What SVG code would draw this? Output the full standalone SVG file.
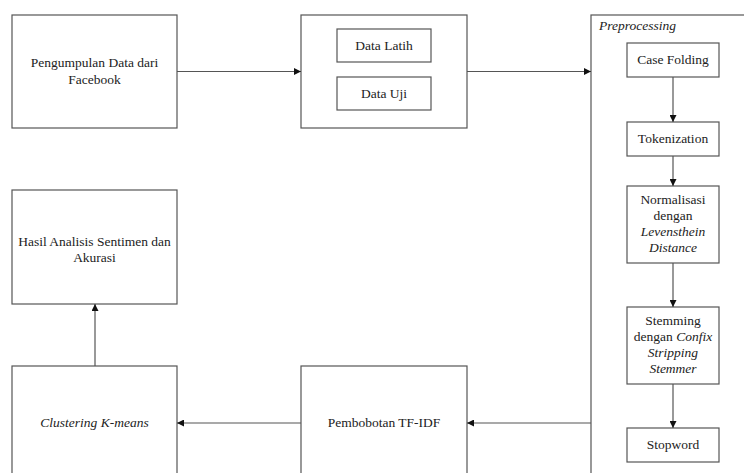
<svg xmlns="http://www.w3.org/2000/svg" width="744" height="473" viewBox="0 0 744 473">
<style>
.b{fill:#fff;stroke:#555;stroke-width:1.2}
.lbl{font-family:'Liberation Serif',serif;font-size:13.5px;fill:#222;text-anchor:middle}
.it{font-style:italic}
.c{fill:none;stroke:#555;stroke-width:1.2}
</style>
<defs>
<marker id="a" viewBox="0 0 10 10" refX="10" refY="5" markerWidth="7" markerHeight="7" markerUnits="userSpaceOnUse" orient="auto">
<path d="M0,0 L10,5 L0,10 z" fill="#111"/>
</marker>
</defs>
<rect width="744" height="473" fill="#fff"/>
<g id="n-pengumpulan">
<rect class="b" x="12" y="15" width="165" height="113"/>
<text class="lbl" font-family="Liberation Serif" x="94.5" y="67">Pengumpulan Data dari</text>
<text class="lbl" font-family="Liberation Serif" x="94.5" y="84">Facebook</text>
</g>
<g id="n-data">
<rect class="b" x="301" y="15" width="166" height="113"/>
<g id="n-latih">
<rect class="b" x="337" y="29" width="94" height="33"/>
<text class="lbl" font-family="Liberation Serif" x="384" y="50">Data Latih</text>
</g>
<g id="n-uji">
<rect class="b" x="337" y="77" width="94" height="33"/>
<text class="lbl" font-family="Liberation Serif" x="384" y="98">Data Uji</text>
</g>
</g>
<g id="n-preprocessing">
<rect class="b" x="591" y="15" width="170" height="470"/>
<text class="lbl it" font-family="Liberation Serif" style="text-anchor:start" x="599" y="30">Preprocessing</text>
</g>
<g id="n-casefolding">
<rect class="b" x="627" y="43" width="92" height="34"/>
<text class="lbl" font-family="Liberation Serif" x="673" y="64">Case Folding</text>
</g>
<g id="n-tokenization">
<rect class="b" x="627" y="122" width="92" height="34"/>
<text class="lbl" font-family="Liberation Serif" x="673" y="143">Tokenization</text>
</g>
<g id="n-normalisasi">
<rect class="b" x="627" y="186" width="92" height="77"/>
<text class="lbl" font-family="Liberation Serif" x="673" y="204">Normalisasi</text>
<text class="lbl" font-family="Liberation Serif" x="673" y="220">dengan</text>
<text class="lbl it" font-family="Liberation Serif" x="673" y="236">Levensthein</text>
<text class="lbl it" font-family="Liberation Serif" x="673" y="252">Distance</text>
</g>
<g id="n-stemming">
<rect class="b" x="627" y="307" width="92" height="77"/>
<text class="lbl" font-family="Liberation Serif" x="673" y="325">Stemming</text>
<text class="lbl" font-family="Liberation Serif" x="673" y="341">dengan <tspan class="it">Confix</tspan></text>
<text class="lbl it" font-family="Liberation Serif" x="673" y="357">Stripping</text>
<text class="lbl it" font-family="Liberation Serif" x="673" y="373">Stemmer</text>
</g>
<g id="n-stopword">
<rect class="b" x="627" y="428" width="92" height="34"/>
<text class="lbl" font-family="Liberation Serif" x="673" y="449">Stopword</text>
</g>
<g id="n-hasil">
<rect class="b" x="12" y="190" width="165" height="114"/>
<text class="lbl" font-family="Liberation Serif" x="94.5" y="246">Hasil Analisis Sentimen dan</text>
<text class="lbl" font-family="Liberation Serif" x="94.5" y="262">Akurasi</text>
</g>
<g id="n-clustering">
<rect class="b" x="12" y="366" width="165" height="120"/>
<text class="lbl it" font-family="Liberation Serif" x="94.5" y="427">Clustering K-means</text>
</g>
<g id="n-tfidf">
<rect class="b" x="301" y="366" width="166" height="120"/>
<text class="lbl" font-family="Liberation Serif" x="384" y="427">Pembobotan TF-IDF</text>
</g>
<g id="connectors">
<line class="c" x1="177" y1="71.5" x2="301" y2="71.5" marker-end="url(#a)"/>
<line class="c" x1="467" y1="71.5" x2="591" y2="71.5" marker-end="url(#a)"/>
<line class="c" x1="673" y1="77" x2="673" y2="122" marker-end="url(#a)"/>
<line class="c" x1="673" y1="156" x2="673" y2="186" marker-end="url(#a)"/>
<line class="c" x1="673" y1="263" x2="673" y2="307" marker-end="url(#a)"/>
<line class="c" x1="673" y1="384" x2="673" y2="428" marker-end="url(#a)"/>
<line class="c" x1="591" y1="423" x2="467" y2="423" marker-end="url(#a)"/>
<line class="c" x1="301" y1="423" x2="177" y2="423" marker-end="url(#a)"/>
<line class="c" x1="95" y1="366" x2="95" y2="304" marker-end="url(#a)"/>
</g>
</svg>
